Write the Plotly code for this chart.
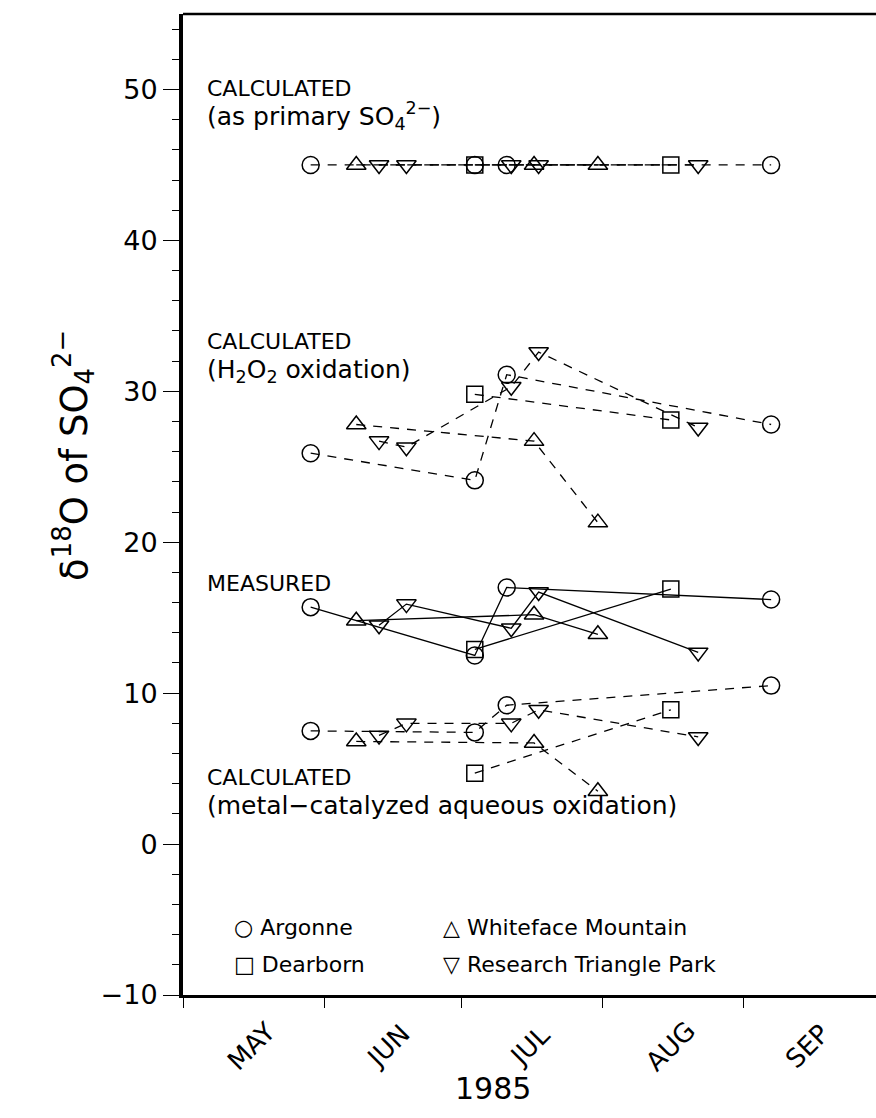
import plotly.graph_objects as go

# ---------------- data ----------------
argonne_dates = ["1985-05-29", "1985-07-04", "1985-07-11", "1985-09-07"]
argonne_primary = [45.0, 45.0, 45.0, 45.0]
argonne_h2o2 = [25.9, 24.1, 31.1, 27.8]
argonne_measured = [15.7, 12.5, 17.0, 16.2]
argonne_metal = [7.5, 7.4, 9.2, 10.5]

whiteface_dates = ["1985-06-08", "1985-07-17", "1985-07-31"]
whiteface_primary = [45.0, 45.0, 45.0]
whiteface_h2o2 = [27.8, 26.7, 21.3]
whiteface_measured = [14.8, 15.2, 13.9]
whiteface_metal = [6.8, 6.7, 3.5]

dearborn_dates = ["1985-07-04", "1985-08-16"]
dearborn_primary = [45.0, 45.0]
dearborn_h2o2 = [29.8, 28.1]
dearborn_measured = [12.9, 16.9]
dearborn_metal = [4.7, 8.9]

rtp_dates = ["1985-06-13", "1985-06-19", "1985-07-12", "1985-07-18", "1985-08-22"]
rtp_primary = [45.0, 45.0, 45.0, 45.0, 45.0]
rtp_h2o2 = [26.7, 26.3, 30.3, 32.6, 27.6]
rtp_measured = [14.5, 15.9, 14.3, 16.7, 12.7]
rtp_metal = [7.2, 8.0, 8.0, 8.9, 7.1]

month_starts = ["1985-05-01", "1985-06-01", "1985-07-01", "1985-08-01", "1985-09-01"]
month_mids = ["1985-05-16", "1985-06-15", "1985-07-16", "1985-08-16", "1985-09-15"]
month_labels = ["MAY", "JUN", "JUL", "AUG", "SEP"]

y_tickvals = [-10, 0, 10, 20, 30, 40, 50]
y_ticktext = ["\u221210", "0", "10", "20", "30", "40", "50"]

FONT = "DejaVu Sans"

stations = [
    ("Argonne", "circle-open", argonne_dates,
     [argonne_primary, argonne_h2o2, argonne_measured, argonne_metal]),
    ("Whiteface Mountain", "triangle-up-open", whiteface_dates,
     [whiteface_primary, whiteface_h2o2, whiteface_measured, whiteface_metal]),
    ("Dearborn", "square-open", dearborn_dates,
     [dearborn_primary, dearborn_h2o2, dearborn_measured, dearborn_metal]),
    ("Research Triangle Park", "triangle-down-open", rtp_dates,
     [rtp_primary, rtp_h2o2, rtp_measured, rtp_metal]),
]
series_dash = ["9px,8px", "9px,8px", "solid", "9px,8px"]

fig = go.Figure()
for name, symbol, dates, series in stations:
    for vals, dash in zip(series, series_dash):
        size = 17 if symbol != "square-open" else 16
        fig.add_trace(go.Scatter(
            x=dates, y=vals, mode="lines+markers", name=name, showlegend=False,
            line=dict(color="black", width=1.3, dash=dash),
            marker=dict(symbol=symbol, size=size, color="black",
                        line=dict(color="black", width=1.5)),
            cliponaxis=False,
        ))

annots = []
txt_font = dict(family=FONT, size=22, color="black")
big = '<span style="font-size:25px">'
annots.append(dict(x=0.032, xref="paper", y=49.0, yref="y", xanchor="left", yanchor="middle",
                   text="CALCULATED<br>" + big + "(as primary SO<sub>4</sub><sup>2\u2212</sup>)</span>",
                   showarrow=False, align="left", font=txt_font))
annots.append(dict(x=0.032, xref="paper", y=32.2, yref="y", xanchor="left", yanchor="middle",
                   text="CALCULATED<br>" + big + "(H<sub>2</sub>O<sub>2</sub> oxidation)</span>",
                   showarrow=False, align="left", font=txt_font))
annots.append(dict(x=0.032, xref="paper", y=17.25, yref="y", xanchor="left", yanchor="middle",
                   text="MEASURED", showarrow=False, align="left", font=txt_font))
annots.append(dict(x=0.032, xref="paper", y=3.4, yref="y", xanchor="left", yanchor="middle",
                   text="CALCULATED<br>" + big + "(metal\u2212catalyzed aqueous oxidation)</span>",
                   showarrow=False, align="left", font=txt_font))

# legend as text
leg_font = dict(family=FONT, size=22, color="black")
leg_items = [
    (0.070, -5.5, "\u25CB Argonne"),
    (0.372, -5.5, "\u25B3 Whiteface Mountain"),
    (0.070, -8.0, "\u25A1 Dearborn"),
    (0.372, -8.0, "\u25BD Research Triangle Park"),
]
for x, y, t in leg_items:
    annots.append(dict(x=x, xref="paper", y=y, yref="y", xanchor="left", yanchor="middle",
                       text=t, showarrow=False, font=leg_font))

# month labels
for d, lab in zip(month_mids, month_labels):
    annots.append(dict(x=d, xref="x", y=-0.052, yref="paper", text=lab, textangle=-45,
                       showarrow=False, xanchor="center", yanchor="middle",
                       font=dict(family=FONT, size=26, color="black")))
annots.append(dict(x="1985-07-08", xref="x", y=-0.095, yref="paper", text="1985",
                   showarrow=False, xanchor="center", yanchor="middle",
                   font=dict(family=FONT, size=30, color="black")))
annots.append(dict(x=-0.158, xref="paper", y=0.55, yref="paper",
                   text="\u03B4<sup>18</sup>O of SO<sub>4</sub><sup>2\u2212</sup>",
                   textangle=-90, showarrow=False, xanchor="center", yanchor="middle",
                   font=dict(family=FONT, size=37, color="black")))

fig.update_layout(
    width=876, height=1118,
    margin=dict(l=183, r=0, t=14, b=123),
    paper_bgcolor="white", plot_bgcolor="white",
    font=dict(family=FONT, color="black"),
    annotations=annots,
    shapes=[dict(type="line", xref="paper", yref="paper", x0=0, x1=1, y0=1, y1=1,
                 line=dict(color="black", width=2.5))],
    xaxis=dict(type="date", range=["1985-05-01", "1985-09-30"],
               tickvals=month_starts, showticklabels=False,
               ticks="outside", ticklen=10, tickwidth=1.3, tickcolor="black",
               showline=True, linewidth=3, linecolor="black",
               showgrid=False, zeroline=False),
    yaxis=dict(range=[-10, 55], tickvals=y_tickvals, ticktext=y_ticktext,
               ticks="outside", ticklen=16, tickwidth=1.4, tickcolor="black",
               tickfont=dict(family=FONT, size=27, color="black"),
               minor=dict(dtick=2, tick0=0, ticks="outside", ticklen=7,
                          tickwidth=1.2, tickcolor="black"),
               showline=True, linewidth=4, linecolor="black",
               showgrid=False, zeroline=False),
)

fig.write_html("out.html")
